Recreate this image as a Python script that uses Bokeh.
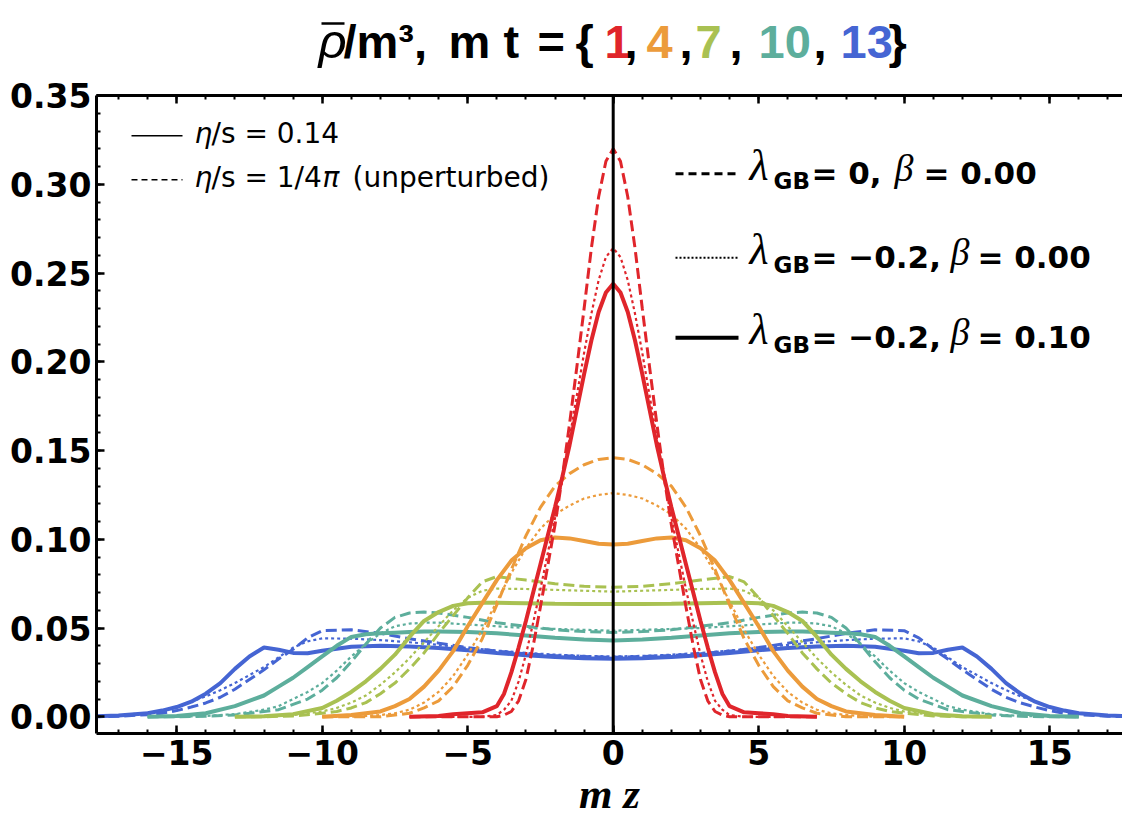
from bokeh.plotting import figure
from bokeh.layouts import column
from bokeh.models import Label, Span, LinearAxis, FixedTicker, Range1d, CustomJSTickFormatter
from bokeh.embed import file_html
from bokeh.resources import INLINE

# ---------------- data (half profiles, symmetric in z) ----------------
times = [1, 4, 7, 10, 13]
colors = ["#e0252b", "#ec9b3b", "#a9c152", "#5dae9c", "#4565d3"]

z_red = [0, 0.25, 0.5, 0.75, 1.0, 1.25, 1.5, 1.75, 2.0, 2.25, 2.5, 2.75, 3.0, 3.25, 3.5, 3.75, 4.0, 4.5, 5.0, 5.5, 6.0, 7.0]
red_dashed = [0.320, 0.313, 0.293, 0.264, 0.230, 0.197, 0.165, 0.135, 0.108, 0.085, 0.062, 0.040, 0.021, 0.009, 0.003, 0.001, 0.0, 0.0, 0.0, 0.0, 0.0, 0.0]
red_dotted = [0.264, 0.259, 0.246, 0.227, 0.205, 0.181, 0.157, 0.134, 0.112, 0.092, 0.072, 0.053, 0.035, 0.020, 0.009, 0.004, 0.001, 0.0, 0.0, 0.0, 0.0, 0.0]
red_solid = [0.244, 0.239, 0.228, 0.212, 0.193, 0.173, 0.153, 0.135, 0.118, 0.102, 0.086, 0.070, 0.054, 0.039, 0.025, 0.013, 0.006, 0.0025, 0.002, 0.0015, 0.0005, 0.0]

z_orange = [0, 0.5, 1, 1.5, 2, 2.5, 3, 3.5, 4, 4.5, 5, 5.5, 6, 6.5, 7, 7.5, 8, 9, 10]
orange_dashed = [0.146, 0.145, 0.142, 0.137, 0.130, 0.118, 0.102, 0.083, 0.063, 0.044, 0.029, 0.017, 0.009, 0.005, 0.002, 0.001, 0.0, 0.0, 0.0]
orange_dotted = [0.126, 0.125, 0.123, 0.119, 0.114, 0.106, 0.095, 0.081, 0.065, 0.049, 0.035, 0.023, 0.014, 0.008, 0.004, 0.002, 0.001, 0.0, 0.0]
orange_solid = [0.097, 0.0975, 0.099, 0.1005, 0.101, 0.0995, 0.095, 0.088, 0.077, 0.064, 0.051, 0.037, 0.026, 0.017, 0.010, 0.006, 0.003, 0.001, 0.0]

z_green = [0, 1, 2, 3, 4, 4.5, 5, 5.5, 6, 6.5, 7, 7.5, 8, 8.5, 9, 9.5, 10, 11, 12, 13]
green_dashed = [0.073, 0.0735, 0.075, 0.077, 0.079, 0.076, 0.067, 0.057, 0.047, 0.036, 0.027, 0.019, 0.013, 0.008, 0.005, 0.003, 0.002, 0.0005, 0.0, 0.0]
green_dotted = [0.0705, 0.071, 0.0715, 0.072, 0.0722, 0.071, 0.067, 0.060, 0.051, 0.042, 0.033, 0.025, 0.018, 0.012, 0.008, 0.005, 0.003, 0.001, 0.0, 0.0]
green_solid = [0.0635, 0.0635, 0.0637, 0.064, 0.0642, 0.0642, 0.064, 0.0625, 0.059, 0.054, 0.045, 0.035, 0.027, 0.020, 0.014, 0.009, 0.005, 0.0015, 0.0003, 0.0]

z_teal = [0, 1, 2, 3, 4, 5, 6, 6.5, 7, 7.5, 8, 8.5, 9, 9.5, 10, 10.5, 11, 11.5, 12, 13, 14, 15, 16]
teal_dashed = [0.0475, 0.048, 0.049, 0.051, 0.053, 0.056, 0.0585, 0.059, 0.0585, 0.056, 0.050, 0.041, 0.031, 0.022, 0.015, 0.010, 0.007, 0.004, 0.003, 0.001, 0.0003, 0.0, 0.0]
teal_dotted = [0.0485, 0.049, 0.0495, 0.050, 0.051, 0.052, 0.053, 0.053, 0.0525, 0.051, 0.047, 0.041, 0.034, 0.026, 0.019, 0.014, 0.010, 0.006, 0.004, 0.0015, 0.0005, 0.0, 0.0]
teal_solid = [0.043, 0.0435, 0.0445, 0.0458, 0.047, 0.0478, 0.048, 0.048, 0.0478, 0.0474, 0.047, 0.0465, 0.045, 0.040, 0.034, 0.028, 0.022, 0.017, 0.012, 0.006, 0.002, 0.0005, 0.0]

z_blue = [0, 1, 2, 3, 4, 5, 6, 7, 8, 9, 10, 10.5, 11, 11.5, 12, 12.5, 13, 13.5, 14, 14.5, 15, 15.5, 16, 17, 18, 19]
blue_dashed = [0.0335, 0.034, 0.0345, 0.0355, 0.037, 0.039, 0.0415, 0.044, 0.047, 0.049, 0.0485, 0.0445, 0.038, 0.0325, 0.0265, 0.021, 0.0155, 0.011, 0.0078, 0.0055, 0.0035, 0.002, 0.0012, 0.0003, 0.0, 0.0]
blue_dotted = [0.034, 0.0343, 0.035, 0.036, 0.0373, 0.0388, 0.0405, 0.042, 0.0432, 0.044, 0.0442, 0.0425, 0.039, 0.0335, 0.028, 0.0235, 0.019, 0.015, 0.0115, 0.0085, 0.0055, 0.0035, 0.0022, 0.0008, 0.0002, 0.0]
blue_solid = [0.0327, 0.033, 0.0337, 0.0347, 0.036, 0.0375, 0.0388, 0.0396, 0.040, 0.0395, 0.0372, 0.0358, 0.036, 0.0378, 0.039, 0.034, 0.027, 0.019, 0.013, 0.0085, 0.0055, 0.0035, 0.002, 0.0007, 0.0002, 0.0]

x_ticks = [-15, -10, -5, 0, 5, 10, 15]
x_minor = list(range(-17, 18))
y_ticks = [0.0, 0.05, 0.10, 0.15, 0.20, 0.25, 0.30, 0.35]
y_minor = [i / 100 for i in range(0, 36)]

title_values = ["1", "4", "7", "10", "13"]
x_label = "m z"

# ---------------- layout (picture pixels) ----------------
W = 1122
TITLE_H = 74
MAIN_H = 829 - TITLE_H

def X(px):
    return (px - 612.7) / 29.1

def Y(py):
    return (716.0 - py) / 1775.0

# labels are anchored slightly above their baseline; compensate per font
SHIFT = {"DejaVu Sans": 0.36, "Liberation Sans": 0.44, "Liberation Serif": 0.42}

def add_text(fig, x, y, text, size, color="black", style="bold", font="Liberation Sans", align="left"):
    fig.add_layout(Label(x=x, y=y, text=text, text_font=font, text_font_size=f"{size}px",
                         text_font_style=style, text_color=color, text_align=align,
                         text_baseline="alphabetic"))

# ---- title figure (y measured from the top of the picture) ----
tf = figure(width=W, height=TITLE_H, output_backend="svg", toolbar_location=None,
            x_range=Range1d(0, W), y_range=Range1d(0, TITLE_H),
            x_axis_type=None, y_axis_type=None,
            min_border_left=0, min_border_right=0, min_border_top=0, min_border_bottom=0,
            frame_align=False)
tf.title = None
tf.outline_line_color = None
tf.xgrid.visible = False
tf.ygrid.visible = False

def tlab(px, py, text, size, color="black", style="bold", font="Liberation Sans"):
    py_adj = py - SHIFT[font] * size
    add_text(tf, px, TITLE_H - py_adj, text, size, color=color, style=style, font=font)

TS = 47
TB = 62
tlab(318, TB, "\u03c1", TS + 2, style="italic")
tf.line([321, 344], [TITLE_H - 23, TITLE_H - 23], line_color="black", line_width=2.5)
tlab(343, TB, "/m\u00b3,", TS)
tlab(448, TB, "m", TS)
tlab(503, TB, "t", TS)
tlab(537, TB, "=", TS)
tlab(575, TB, "{", TS)
title_x = [604, 646, 695, 758, 840]
comma_x = [624, 679, 729, 813]
for i, (tv, tx) in enumerate(zip(title_values, title_x)):
    tlab(tx, TB, tv, TS, color=colors[i])
for cx in comma_x:
    tlab(cx, TB, ",", TS)
tlab(888, TB, "}", TS)

# ---- main figure ----
p = figure(width=W, height=MAIN_H, output_backend="svg", toolbar_location=None,
           x_range=Range1d(X(96), X(W)), y_range=Range1d(Y(732.7), 0.35),
           min_border_left=96, min_border_right=0, min_border_top=95 - TITLE_H,
           min_border_bottom=829 - 733, frame_align=False)
p.title = None
p.outline_line_color = None
p.xgrid.visible = False
p.ygrid.visible = False

TICK_FONT = "DejaVu Sans"
for ax in (p.xaxis[0], p.yaxis[0]):
    ax.axis_line_width = 3
    ax.axis_line_color = "black"
    ax.major_tick_in = 8
    ax.major_tick_out = 0
    ax.minor_tick_in = 4
    ax.minor_tick_out = 0
    ax.major_tick_line_width = 2.5
    ax.minor_tick_line_width = 2
    ax.major_label_text_font = TICK_FONT
    ax.major_label_text_font_style = "bold"
    ax.major_label_text_font_size = "33px"
    ax.major_label_text_color = "black"

p.xaxis[0].ticker = FixedTicker(ticks=x_ticks, minor_ticks=x_minor)
p.yaxis[0].ticker = FixedTicker(ticks=y_ticks, minor_ticks=y_minor)
p.xaxis[0].formatter = CustomJSTickFormatter(code="return tick < 0 ? '\\u2212' + Math.abs(tick) : String(tick);")
p.yaxis[0].formatter = CustomJSTickFormatter(code="return tick.toFixed(2);")
p.xaxis[0].major_label_standoff = 6
p.yaxis[0].major_label_standoff = 5
p.xaxis[0].axis_label = x_label
p.xaxis[0].axis_label_text_font = "Liberation Serif"
p.xaxis[0].axis_label_text_font_style = "bold italic"
p.xaxis[0].axis_label_text_font_size = "43px"
p.xaxis[0].axis_label_text_color = "black"
p.xaxis[0].axis_label_standoff = 2

top = LinearAxis(ticker=FixedTicker(ticks=x_ticks, minor_ticks=x_minor))
top.axis_line_width = 3
top.major_tick_in = 8
top.major_tick_out = 0
top.minor_tick_in = 4
top.minor_tick_out = 0
top.major_tick_line_width = 2.5
top.minor_tick_line_width = 2
top.major_label_text_font_size = "0px"
top.major_label_text_color = None
top.major_label_standoff = 0
p.add_layout(top, "above")

p.add_layout(Span(location=0, dimension="height", line_color="black", line_width=3))

def mirror(zh, vh):
    zs = [-z for z in reversed(zh[1:])] + list(zh)
    vs = list(reversed(vh[1:])) + list(vh)
    return zs, vs

groups = [
    (z_blue, blue_dashed, blue_dotted, blue_solid, colors[4]),
    (z_teal, teal_dashed, teal_dotted, teal_solid, colors[3]),
    (z_green, green_dashed, green_dotted, green_solid, colors[2]),
    (z_orange, orange_dashed, orange_dotted, orange_solid, colors[1]),
    (z_red, red_dashed, red_dotted, red_solid, colors[0]),
]
for zh, vd, vt, vs, c in groups:
    zz, yy = mirror(zh, vd)
    p.line(zz, yy, line_color=c, line_width=3, line_dash="11 5")
    zz, yy = mirror(zh, vt)
    p.line(zz, yy, line_color=c, line_width=2.2, line_dash="3 3")
    zz, yy = mirror(zh, vs)
    p.line(zz, yy, line_color=c, line_width=4)

def lab(px, py, text, size, color="black", style="bold", font="Liberation Sans", align="left"):
    py_adj = py - SHIFT[font] * size
    add_text(p, X(px), Y(py_adj), text, size, color=color, style=style, font=font, align=align)

# ---- left legend ----
LF = "DejaVu Sans"
p.line([X(131), X(182)], [Y(135), Y(135)], line_color="black", line_width=1.6)
p.line([X(131), X(182)], [Y(179), Y(179)], line_color="black", line_width=1.6, line_dash="6 4")
lab(194, 143, "\u03b7", 28, style="italic", font=LF)
lab(211, 143, "/s = 0.14", 28, style="normal", font=LF)
lab(194, 187, "\u03b7", 28, style="italic", font=LF)
lab(211, 187, "/s = 1/4", 28, style="normal", font=LF)
lab(322, 187, "\u03c0", 28, style="italic", font=LF)
lab(352, 187, "(unperturbed)", 28, style="normal", font=LF)

# ---- right legend ----
RF = "DejaVu Sans"
GF = "Liberation Serif"
rows = [
    (173, 183, "= 0,", 894, 923, "= 0.00", "8 5", 3),
    (257, 267, "= \u22120.2,", 950, 977, "= 0.00", "2 2", 2.2),
    (337, 347, "= \u22120.2,", 950, 977, "= 0.10", None, 4),
]
for ly, by, t1, bx, t2x, t2, dash, lw in rows:
    if dash:
        p.line([X(675), X(738)], [Y(ly), Y(ly)], line_color="black", line_width=lw, line_dash=dash)
    else:
        p.line([X(675), X(738)], [Y(ly), Y(ly)], line_color="black", line_width=lw)
    lab(749, by, "\u03bb", 44, style="italic", font=GF)
    lab(773, by + 6, "GB", 23, style="bold", font=RF)
    lab(811, by, t1, 31, style="bold", font=RF)
    lab(bx, by, "\u03b2", 38, style="italic", font=GF)
    lab(t2x, by, t2, 31, style="bold", font=RF)

layout = column(tf, p, spacing=0)
open("out.html", "w").write(file_html(layout, INLINE))
